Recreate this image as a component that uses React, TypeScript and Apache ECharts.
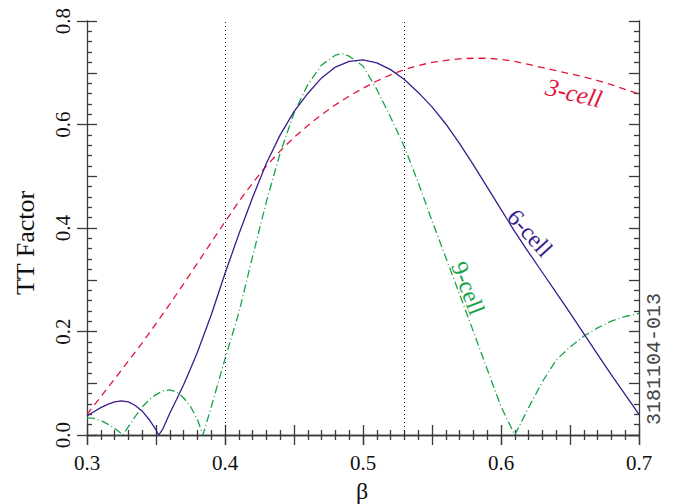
import React, { useEffect, useRef } from "react";
import * as echarts from "echarts";

// ---- data ----
const beta3 = [0.30,0.31,0.32,0.33,0.34,0.35,0.36,0.37,0.38,0.39,0.40,0.41,0.42,0.43,0.44,0.45,0.46,0.47,0.48,0.49,0.50,0.51,0.52,0.53,0.54,0.55,0.56,0.57,0.58,0.59,0.60,0.61,0.62,0.63,0.64,0.65,0.66,0.67,0.68,0.69,0.70];
const tt3 = [0.040,0.074,0.108,0.143,0.178,0.215,0.253,0.292,0.332,0.372,0.412,0.451,0.487,0.520,0.549,0.575,0.598,0.619,0.638,0.655,0.670,0.684,0.696,0.706,0.714,0.720,0.724,0.727,0.728,0.728,0.726,0.722,0.716,0.710,0.704,0.698,0.692,0.685,0.677,0.668,0.659];

const beta6 = [0.300,0.305,0.310,0.315,0.320,0.325,0.330,0.335,0.340,0.345,0.350,0.352,0.355,0.360,0.365,0.370,0.375,0.380,0.390,0.400,0.410,0.420,0.430,0.440,0.450,0.460,0.470,0.480,0.490,0.500,0.510,0.520,0.530,0.540,0.550,0.560,0.570,0.580,0.590,0.600,0.610,0.620,0.630,0.640,0.650,0.660,0.670,0.680,0.690,0.700];
const tt6 = [0.037,0.045,0.053,0.059,0.064,0.066,0.064,0.057,0.046,0.030,0.010,0.000,0.012,0.042,0.069,0.097,0.128,0.160,0.232,0.312,0.388,0.459,0.525,0.580,0.625,0.660,0.690,0.711,0.722,0.725,0.719,0.706,0.687,0.662,0.634,0.601,0.563,0.522,0.479,0.436,0.393,0.353,0.314,0.275,0.236,0.196,0.156,0.116,0.078,0.040];

const beta9 = [0.300,0.305,0.310,0.315,0.320,0.326,0.330,0.335,0.340,0.345,0.350,0.355,0.360,0.365,0.370,0.375,0.380,0.384,0.390,0.400,0.410,0.420,0.430,0.440,0.450,0.460,0.470,0.480,0.485,0.490,0.500,0.510,0.520,0.530,0.540,0.550,0.560,0.570,0.580,0.590,0.600,0.610,0.620,0.630,0.640,0.650,0.660,0.670,0.680,0.690,0.700];
const tt9 = [0.033,0.032,0.028,0.021,0.013,0.000,0.016,0.036,0.054,0.068,0.078,0.085,0.087,0.083,0.072,0.055,0.030,0.000,0.054,0.147,0.236,0.345,0.451,0.545,0.622,0.677,0.715,0.734,0.737,0.732,0.713,0.668,0.614,0.557,0.488,0.414,0.343,0.272,0.200,0.127,0.055,0.000,0.053,0.103,0.145,0.170,0.191,0.207,0.220,0.229,0.235];

const refLines = [0.4, 0.53];
const seriesNames = ["3-cell", "6-cell", "9-cell"];
const xRange = [0.3, 0.7];
const yRange = [0.0, 0.8];

const RED = "#e0163d";
const PURPLE = "#3b1c8c";
const GREEN = "#17a34a";
const AX = "#3a3a3a";
const SERIF = "'Liberation Serif', serif";
const MONO = "'Liberation Mono', monospace";

const pairs = (xs: number[], ys: number[]) => xs.map((x, i) => [x, ys[i]]);

export default function App() {
  const ref = useRef<HTMLDivElement>(null);
  useEffect(() => {
    if (!ref.current) return;
    const chart = echarts.init(ref.current, undefined, { renderer: "svg" });
    const lineCol = { lineStyle: { color: AX, width: 1.3 } };
    const baseX = { type: "value", min: xRange[0], max: xRange[1], splitLine: { show: false } };
    const baseY = { type: "value", min: yRange[0], max: yRange[1], splitLine: { show: false } };
    const txt = (text: string, fill: string, font: string) => ({
      text, fill, font, align: "center", verticalAlign: "middle", textAlign: "center", textVerticalAlign: "middle",
    });
    chart.setOption({
      animation: false,
      backgroundColor: "#ffffff",
      grid: { left: 87, right: 45, top: 21, bottom: 69, containLabel: false },
      xAxis: [
        {
          ...baseX, position: "bottom", interval: 0.05,
          axisLine: { show: true, ...lineCol },
          axisTick: { show: true, inside: true, length: 10, ...lineCol },
          minorTick: { show: true, splitNumber: 5, length: 5, ...lineCol },
          axisLabel: { show: false },
        },
        {
          ...baseX, position: "bottom", interval: 0.1,
          axisLine: { show: false },
          axisTick: { show: true, inside: false, length: 10, ...lineCol },
          axisLabel: { show: true, margin: 17, color: "#111", fontFamily: SERIF, fontSize: 21, formatter: (v: number) => v.toFixed(1) },
        },
        {
          ...baseX, position: "top", interval: 0.05,
          axisLine: { show: true, ...lineCol },
          axisTick: { show: true, inside: true, length: 10, ...lineCol },
          minorTick: { show: true, splitNumber: 5, length: 5, ...lineCol },
          axisLabel: { show: false },
        },
      ],
      yAxis: [
        {
          ...baseY, position: "left", interval: 0.1,
          axisLine: { show: true, ...lineCol },
          axisTick: { show: true, inside: true, length: 10, ...lineCol },
          minorTick: { show: true, splitNumber: 5, length: 5, ...lineCol },
          axisLabel: { show: false },
        },
        {
          ...baseY, position: "left", interval: 0.2,
          axisLine: { show: false },
          axisTick: { show: true, inside: false, length: 10, ...lineCol },
          axisLabel: { show: true, rotate: 90, margin: 14, color: "#111", fontFamily: SERIF, fontSize: 21, formatter: (v: number) => v.toFixed(1) },
        },
        {
          ...baseY, position: "right", interval: 0.1,
          axisLine: { show: true, ...lineCol },
          axisTick: { show: true, inside: true, length: 10, ...lineCol },
          minorTick: { show: true, splitNumber: 5, length: 5, ...lineCol },
          axisLabel: { show: false },
        },
      ],
      series: [
        {
          name: seriesNames[0], type: "line", xAxisIndex: 0, yAxisIndex: 0,
          data: pairs(beta3, tt3), symbol: "none", smooth: false,
          lineStyle: { color: RED, width: 1.3, type: [7, 5] },
          markLine: {
            silent: true, symbol: "none", label: { show: false },
            lineStyle: { color: "#111", width: 1, type: [1, 3] },
            data: refLines.map((v) => ({ xAxis: v })),
          },
          z: 3,
        },
        {
          name: seriesNames[1], type: "line", xAxisIndex: 0, yAxisIndex: 0,
          data: pairs(beta6, tt6), symbol: "none", smooth: false,
          lineStyle: { color: PURPLE, width: 1.3, type: "solid" },
          z: 4,
        },
        {
          name: seriesNames[2], type: "line", xAxisIndex: 0, yAxisIndex: 0,
          data: pairs(beta9, tt9), symbol: "none", smooth: false,
          lineStyle: { color: GREEN, width: 1.3, type: [8, 3, 1, 3] },
          z: 3,
        },
      ],
      graphic: [
        { type: "text", x: 25, y: 243, rotation: Math.PI / 2, style: txt("TT Factor", "#111", `26px ${SERIF}`) },
        { type: "text", x: 362, y: 491, style: txt("β", "#111", `24px ${SERIF}`) },
        { type: "text", x: 574, y: 93, rotation: -0.24, style: txt(seriesNames[0], RED, `italic 25px ${SERIF}`) },
        { type: "text", x: 530, y: 233, rotation: -0.84, style: txt(seriesNames[1], PURPLE, `24px ${SERIF}`) },
        { type: "text", x: 468, y: 288, rotation: -1.2, style: txt(seriesNames[2], GREEN, `24px ${SERIF}`) },
        { type: "text", x: 654, y: 359, rotation: Math.PI / 2, style: txt("3181104-013", "#444", `20px ${MONO}`) },
      ],
    });
    return () => chart.dispose();
  }, []);
  return <div ref={ref} style={{ position: "fixed", left: 0, top: 0, width: 684, height: 504 }} />;
}
